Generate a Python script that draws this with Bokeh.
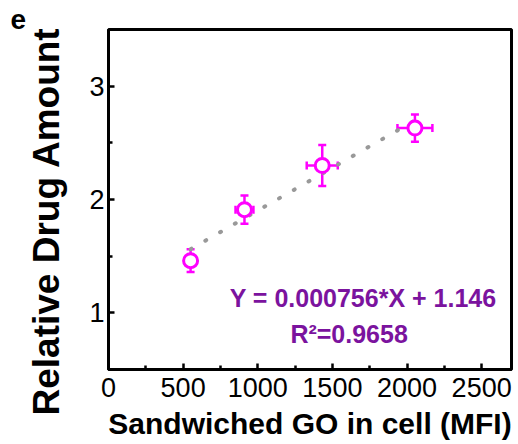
import numpy as np
from bokeh.plotting import figure
from bokeh.models import ColumnDataSource, Whisker, TeeHead, Label, FixedTicker, Title
from bokeh.embed import file_html
from bokeh.resources import INLINE

# ---- data ----
mfi = [550, 911, 1432, 2053]
mfi_err = [0, 60, 104, 117]
drug = [1.46, 1.91, 2.30, 2.63]
drug_err = [0.10, 0.125, 0.18, 0.12]
slope = 0.000756
intercept = 1.146
r2 = 0.9658
x_ticks = [0, 500, 1000, 1500, 2000, 2500]
y_ticks = [1, 2, 3]

MAG = "#FF00FF"
PURPLE = "#7B139E"
FONT = "Liberation Sans"

src = ColumnDataSource(data=dict(
    x=mfi, y=drug,
    xl=[a - b for a, b in zip(mfi, mfi_err)], xr=[a + b for a, b in zip(mfi, mfi_err)],
    yl=[a - b for a, b in zip(drug, drug_err)], yu=[a + b for a, b in zip(drug, drug_err)],
))

p = figure(frame_width=403, frame_height=340, x_range=(0, 2700), y_range=(0.5, 3.5),
           output_backend="svg", toolbar_location=None,
           min_border_left=108, min_border_right=7, min_border_top=29, min_border_bottom=75)

p.title.text = "e"
p.title.align = "left"
p.title.offset = -98
p.title.standoff = 2
p.title.text_font = FONT
p.title.text_font_style = "bold"
p.title.text_font_size = "28px"
p.title.text_color = "black"

p.xgrid.visible = False
p.ygrid.visible = False
p.outline_line_color = "black"
p.outline_line_width = 3
p.outline_line_alpha = 1

p.xaxis.ticker = FixedTicker(ticks=x_ticks, minor_ticks=[t + 250 for t in x_ticks[:-1]])
p.yaxis.ticker = FixedTicker(ticks=y_ticks, minor_ticks=[t + 0.5 for t in y_ticks[:-1]])
for ax in (p.xaxis, p.yaxis):
    ax.major_tick_in = 6
    ax.major_tick_out = 0
    ax.minor_tick_in = 4
    ax.minor_tick_out = 0
    ax.major_tick_line_width = 2.5
    ax.minor_tick_line_width = 2.5
    ax.axis_line_width = 3
    ax.major_label_text_font = FONT
    ax.major_label_text_font_size = "27px"
    ax.major_label_text_color = "black"
    ax.axis_label_text_font = FONT
    ax.axis_label_text_font_style = "bold"
    ax.axis_label_text_color = "black"

p.xaxis.major_label_standoff = 8
p.yaxis.major_label_standoff = 4
p.xaxis.axis_label = "Sandwiched GO in cell (MFI)"
p.xaxis.axis_label_text_font_size = "30px"
p.xaxis.axis_label_standoff = 7

# y axis title as a left-side title so it can be shifted along the axis
p.add_layout(Title(text="Relative Drug Amount", align="left", offset=-46, standoff=40,
                   text_font=FONT, text_font_style="bold", text_font_size="37px",
                   text_color="black"), "left")

# fit line
fx = [min(mfi), max(mfi)]
fy = [slope * v + intercept for v in fx]
p.line(fx, fy, line_color="#999999", line_width=4, line_dash="1 16", line_cap="round")

# error bars
p.add_layout(Whisker(source=src, base="x", upper="yu", lower="yl", dimension="height",
                     line_color=MAG, line_width=2.5, level="underlay",
                     upper_head=TeeHead(size=8, line_color=MAG, line_width=2.5),
                     lower_head=TeeHead(size=8, line_color=MAG, line_width=2.5)))
p.add_layout(Whisker(source=src, base="y", upper="xr", lower="xl", dimension="width",
                     line_color=MAG, line_width=2.5, level="underlay",
                     upper_head=TeeHead(size=8, line_color=MAG, line_width=2.5),
                     lower_head=TeeHead(size=8, line_color=MAG, line_width=2.5)))

p.scatter("x", "y", source=src, size=14, marker="circle", fill_color="white",
          line_color=MAG, line_width=3)

p.add_layout(Label(x=1706, y=1.135, text="Y = %.6f*X + %.3f" % (slope, intercept),
                   text_align="center", text_baseline="alphabetic", text_font=FONT,
                   text_font_style="bold", text_font_size="25px", text_color=PURPLE))
p.add_layout(Label(x=1612, y=0.817, text="R\u00b2=%.4f" % r2,
                   text_align="center", text_baseline="alphabetic", text_font=FONT,
                   text_font_style="bold", text_font_size="25px", text_color=PURPLE))

open("out.html", "w").write(file_html(p, INLINE))
